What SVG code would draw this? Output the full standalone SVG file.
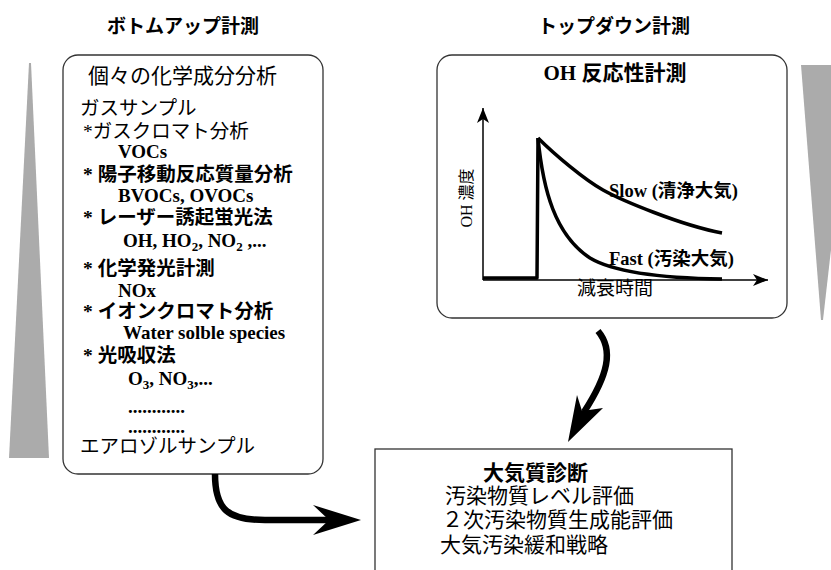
<svg xmlns="http://www.w3.org/2000/svg" width="831" height="570" viewBox="0 0 831 570">
<style>
.box{fill:#fff;stroke:#333;stroke-width:1.3}
.ser{font-family:"Liberation Serif","Noto Sans CJK JP",serif;fill:#000}
.sans{font-family:"Liberation Sans","Noto Sans CJK JP",sans-serif;fill:#000}
.b{font-weight:bold}
.wedge{fill:#ababab}
.curve{fill:none;stroke:#000;stroke-width:3.5;stroke-linejoin:round}
.axis{fill:none;stroke:#000;stroke-width:1.5}
.conn{fill:none;stroke:#000;stroke-width:6.5}
.head{fill:#000}
.lt{font-size:19.5px}
.lat{font-size:19px}
</style>
<defs>
<marker id="ax" markerWidth="16" markerHeight="12" refX="15" refY="6" orient="auto" markerUnits="userSpaceOnUse">
<path d="M0,0 L15,6 L0,12 L4,6 Z" fill="#000"/>
</marker>
</defs>

<polygon class="wedge" points="29,63 31,63 49,458 9,458"/>
<polygon class="wedge" points="801,65 852,65 823,320 821,320"/>

<text class="sans b" x="183" y="33" font-size="19" text-anchor="middle">ボトムアップ計測</text>
<text class="sans b" x="614" y="33" font-size="19" text-anchor="middle">トップダウン計測</text>

<g id="bottom-up">
<rect class="box" x="63" y="55" width="260" height="419" rx="15"/>
<text class="ser" x="88" y="83" font-size="21">個々の化学成分分析</text>
<text class="ser lt" x="80" y="115">ガスサンプル</text>
<text class="ser lt" x="83" y="138">*ガスクロマト分析</text>
<text class="ser b lat" x="118" y="158">VOCs</text>
<text class="ser b lt" x="83" y="181">* 陽子移動反応質量分析</text>
<text class="ser b lat" x="118" y="202">BVOCs, OVOCs</text>
<text class="ser b lt" x="83" y="224">* レーザー誘起蛍光法</text>
<text class="ser b lat" x="123" y="247">OH, HO<tspan dy="4" font-size="13">2</tspan><tspan dy="-4">, NO</tspan><tspan dy="4" font-size="13">2</tspan><tspan dy="-4"> ,...</tspan></text>
<text class="ser b lt" x="83" y="275">* 化学発光計測</text>
<text class="ser b lat" x="118" y="297">NOx</text>
<text class="ser b lt" x="83" y="318">* イオンクロマト分析</text>
<text class="ser b lat" x="123" y="339">Water solble species</text>
<text class="ser b lt" x="83" y="362">* 光吸収法</text>
<text class="ser b lat" x="128" y="385">O<tspan dy="4" font-size="13">3</tspan><tspan dy="-4">, NO</tspan><tspan dy="4" font-size="13">3</tspan><tspan dy="-4">,...</tspan></text>
<text class="ser b lat" x="128" y="413">............</text>
<text class="ser b lat" x="128" y="433">............</text>
<text class="ser lt" x="80" y="453">エアロゾルサンプル</text>
</g>

<g id="top-down">
<rect class="box" x="437" y="55" width="350" height="263" rx="15"/>
<text class="ser b" x="615" y="80" font-size="21" text-anchor="middle">OH 反応性計測</text>
<line class="axis" x1="483" y1="280" x2="483" y2="108" marker-end="url(#ax)"/>
<line class="axis" x1="483" y1="280" x2="768" y2="280" marker-end="url(#ax)"/>
<path class="curve" d="M483,278 L537,278 L538,138"/>
<path class="curve" d="M538,138 C555,155 585,180 603,190 S680,225 722,233"/>
<path class="curve" d="M538,138 C543,190 555,235 590,258 C610,270 650,278 722,279"/>
<text class="ser b" x="609" y="197" font-size="18.5">Slow (清浄大気)</text>
<text class="ser b" x="609" y="265" font-size="18.5">Fast (汚染大気)</text>
<text class="ser" transform="translate(472,198) rotate(-90)" font-size="16" text-anchor="middle">OH 濃度</text>
<text class="sans" x="615" y="295" font-size="19" text-anchor="middle">減衰時間</text>
</g>

<g id="diagnosis">
<rect class="box" x="375" y="449" width="357" height="140"/>
<text class="sans b" x="483" y="480" font-size="21">大気質診断</text>
<text class="sans" x="445" y="503" font-size="21">汚染物質レベル評価</text>
<text class="sans" x="442" y="527" font-size="21">２次汚染物質生成能評価</text>
<text class="sans" x="440" y="552" font-size="21">大気汚染緩和戦略</text>
</g>

<g id="connectors">
<path class="conn" d="M215,474 C215,510 228,520 265,520 L332,520"/>
<polygon class="head" points="361,520 313,505 329,520 313,535"/>
<path class="conn" d="M598,331 C614,350 608,375 584,412"/>
<polygon class="head" points="568,442 577,395 582,411 603,408"/>
</g>
</svg>
